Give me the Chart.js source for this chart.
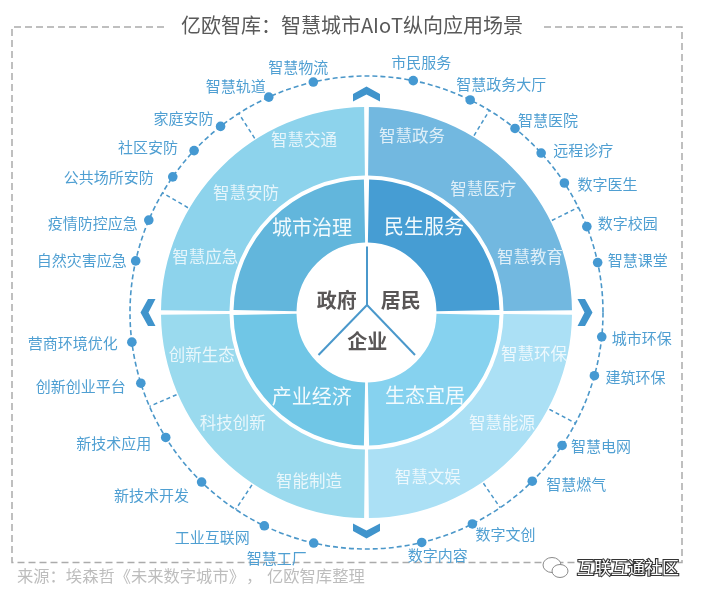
<!DOCTYPE html>
<html>
<head>
<meta charset="utf-8">
<style>
  html, body { margin: 0; padding: 0; background: #fff; }
  #wrap { width: 701px; height: 599px; }
</style>
<script src="https://cdn.jsdelivr.net/npm/chart.js@4"></script>
</head>
<body>
<div id="wrap"><canvas id="chart" width="701" height="599"></canvas></div>
<script>
const titleText = "亿欧智库：智慧城市AIoT纵向应用场景";
const sourceParts = ["来源：埃森哲《未来数字城市》", "，", "亿欧智库整理"];
const watermarkText = "互联互通社区";

// quadrants clockwise from the top: each holds 3 sub scenes
const domainLabels = ["民生服务", "生态宜居", "产业经济", "城市治理"];
const domainValues = [3, 3, 3, 3];
const domainColors = ["#469dd3", "#86d2ef", "#70c6e6", "#62b6dc"];
const sectorColors = ["#72b8e0", "#abe0f5", "#9adaee", "#8dd3ec"];

const sectorLabels = [
  "智慧政务", "智慧医疗", "智慧教育",
  "智慧环保", "智慧能源", "智慧文娱",
  "智能制造", "科技创新", "创新生态",
  "智慧应急", "智慧安防", "智慧交通",
];
const actorLabels = ["政府", "居民", "企业"];

// outer ring items, clockwise, angle in degrees from the top
const leafLabels = [
  "市民服务", "智慧政务大厅", "智慧医院", "远程诊疗", "数字医生", "数字校园", "智慧课堂",
  "城市环保", "建筑环保", "智慧电网", "智慧燃气", "数字文创", "数字内容",
  "智慧工厂", "工业互联网", "新技术开发", "新技术应用", "创新创业平台", "营商环境优化",
  "自然灾害应急", "疫情防控应急", "公共场所安防", "社区安防", "家庭安防", "智慧轨道", "智慧物流",
];
const leafAngles = [
  11.4, 26, 38.9, 47.6, 56.8, 68.7, 77.8,
  95.9, 105.5, 124.2, 135.5, 153.4, 166.5,
  192.9, 205.6, 224.2, 238.1, 252.6, 262.8,
  282.6, 293, 305, 313.2, 321.9, 335.6, 347,
];
const spokeAngles = [31.3, 63.6, 117.9, 145.6, 213.6, 246.6, 300.4, 327.3];

// layout, in px relative to the circle centre / the dot
const RING = 236.5;
const SPOKE_IN = 207;
const domainAt = [[57.5, -86.5], [58.5, 82.5], [-54.8, 84], [-54.5, -85.5]];
const sectorAt = [
  [45.5, -176.5], [116.8, -124.2], [163.5, -55.8],
  [167.5, 40.8], [135.5, 109.8], [61.2, 164.5],
  [-57.5, 167.8], [-133.8, 109.8], [-164.8, 42.5],
  [-161.2, -55.8], [-120.5, -120.2], [-62.5, -173.2],
];
const actorAt = [[-29.8, -12.5], [34.2, -12.5], [0.8, 28.5]];
const leafShift = [
  [8, -18], [31, -16], [33, -8], [42, -3], [43, 1], [41, -3], [40, -2],
  [40, 1], [41, 2], [39, 1], [44, 3], [33, 10], [16, 13],
  [-37, 15], [-52, 12], [-50, 13], [-52, 6], [-60, 3], [-59, 1],
  [-54, -1], [-56, 3], [-64, 0], [-46, -3], [-37, -8], [-33, -11], [-15, -15],
];

const FONT = '"Noto Sans CJK SC", "Noto Sans", sans-serif';

function polar(deg, r) {
  const a = (deg * Math.PI) / 180;
  return { x: r * Math.sin(a), y: -r * Math.cos(a) };
}

const leafPoints = leafAngles.map((a) => polar(a, RING));

const spokeSets = spokeAngles.map((a) => ({
  type: "scatter",
  data: [polar(a, SPOKE_IN), polar(a, RING)],
  showLine: true,
  borderColor: "#4b97c9",
  borderWidth: 1.5,
  borderDash: [4, 3],
  pointRadius: 0,
  weight: 0,
}));

// three lines dividing the centre disc
const hub = { x: 0.5, y: -7.5 };
const actorLines = [{ x: 0.5, y: -66 }, { x: -48, y: 42.5 }, { x: 48.5, y: 42.5 }].map((end) => ({
  type: "scatter",
  data: [hub, end],
  showLine: true,
  borderColor: "#4a98cb",
  borderWidth: 2,
  pointRadius: 0,
  weight: 0,
}));

const overlay = {
  id: "overlay",
  beforeDatasetsDraw(chart) {
    const { ctx, scales } = chart;
    const cx = scales.x.getPixelForValue(0);
    const cy = scales.y.getPixelForValue(0);
    ctx.save();
    // frame
    ctx.strokeStyle = "#ababab";
    ctx.lineWidth = 1.5;
    ctx.setLineDash([7, 4]);
    ctx.beginPath();
    ctx.moveTo(164, 27);
    ctx.lineTo(12, 27);
    ctx.lineTo(12, 562.5);
    ctx.lineTo(682, 562.5);
    ctx.lineTo(682, 27);
    ctx.lineTo(540, 27);
    ctx.stroke();
    // dashed ring
    ctx.strokeStyle = "#4b97c9";
    ctx.lineWidth = 1.6;
    ctx.setLineDash([5, 3]);
    ctx.beginPath();
    ctx.arc(cx, cy, RING, 0, Math.PI * 2);
    ctx.stroke();
    ctx.setLineDash([]);
    // chevrons
    ctx.fillStyle = "#4094cc";
    [0, 90, 180, 270].forEach((deg) => {
      ctx.save();
      ctx.translate(cx, cy);
      ctx.rotate((deg * Math.PI) / 180);
      ctx.beginPath();
      ctx.moveTo(-13.5, -218.5);
      ctx.lineTo(0, -226);
      ctx.lineTo(13.5, -218.5);
      ctx.lineTo(13.5, -211);
      ctx.lineTo(0, -218);
      ctx.lineTo(-13.5, -211);
      ctx.closePath();
      ctx.fill();
      ctx.restore();
    });
    ctx.restore();
  },
  afterDatasetsDraw(chart) {
    const { ctx, scales } = chart;
    const cx = scales.x.getPixelForValue(0);
    const cy = scales.y.getPixelForValue(0);
    const put = (text, x, y, font, color) => {
      ctx.font = font;
      ctx.fillStyle = color;
      ctx.fillText(text, x, y);
    };
    ctx.save();
    ctx.textAlign = "center";
    ctx.textBaseline = "middle";
    domainLabels.forEach((t, i) =>
      put(t, cx + domainAt[i][0], cy + domainAt[i][1], "20px " + FONT, "#f2fafd")
    );
    sectorLabels.forEach((t, i) =>
      put(t, cx + sectorAt[i][0], cy + sectorAt[i][1], "16.5px " + FONT, "rgba(255,255,255,0.78)")
    );
    actorLabels.forEach((t, i) =>
      put(t, cx + actorAt[i][0], cy + actorAt[i][1], "bold 20px " + FONT, "#595656")
    );
    leafLabels.forEach((t, i) => {
      const p = leafPoints[i];
      put(
        t,
        scales.x.getPixelForValue(p.x) + leafShift[i][0],
        scales.y.getPixelForValue(p.y) + leafShift[i][1],
        "15px " + FONT,
        "#4f9fd2"
      );
    });
    ctx.fontKerning = "none";
    put(titleText, 352, 25, "20px " + FONT, "#595959");
    ctx.textAlign = "left";
    [17, 246, 267].forEach((x, i) => put(sourceParts[i], x, 576, "16.3px " + FONT, "#bdbdbd"));
    // watermark: chat bubbles, then the name
    ctx.strokeStyle = "#8a8a8a";
    ctx.lineWidth = 1;
    ctx.fillStyle = "#fff";
    ctx.beginPath();
    ctx.ellipse(552, 565, 9, 7.5, 0, 0, Math.PI * 2);
    ctx.fill();
    ctx.stroke();
    ctx.beginPath();
    ctx.ellipse(560, 571, 8, 6.5, 0, 0, Math.PI * 2);
    ctx.fill();
    ctx.stroke();
    ctx.font = "17px " + FONT;
    ctx.strokeStyle = "#333";
    ctx.lineWidth = 2.2;
    ctx.strokeText(watermarkText, 577, 568);
    ctx.fillStyle = "#fff";
    ctx.fillText(watermarkText, 577, 568);
    ctx.restore();
  },
};

const ringOptions = { type: "doughnut", borderWidth: 0, cutout: "33.25%", radius: 203 };

new Chart(document.getElementById("chart"), {
  type: "scatter",
  data: {
    datasets: [
      { ...ringOptions, data: domainValues, backgroundColor: sectorColors, spacing: 5, weight: 68.5 },
      { ...ringOptions, data: [1], backgroundColor: "rgba(0,0,0,0)", weight: 4 },
      { ...ringOptions, data: domainValues, backgroundColor: domainColors, spacing: 5, weight: 63 },
      {
        type: "scatter",
        data: leafPoints,
        backgroundColor: "#4599d2",
        borderWidth: 0,
        pointRadius: 4.8,
        weight: 0,
      },
      ...spokeSets,
      ...actorLines,
    ],
  },
  options: {
    responsive: false,
    animation: false,
    events: [],
    layout: { padding: { left: 116.5, right: 84.5, top: 62.5, bottom: 36.5 } },
    scales: {
      x: { display: false, min: -250, max: 250 },
      y: { display: false, min: -250, max: 250, reverse: true },
    },
    plugins: { legend: { display: false }, tooltip: { enabled: false }, title: { display: false } },
  },
  plugins: [overlay],
});
</script>
</body>
</html>
